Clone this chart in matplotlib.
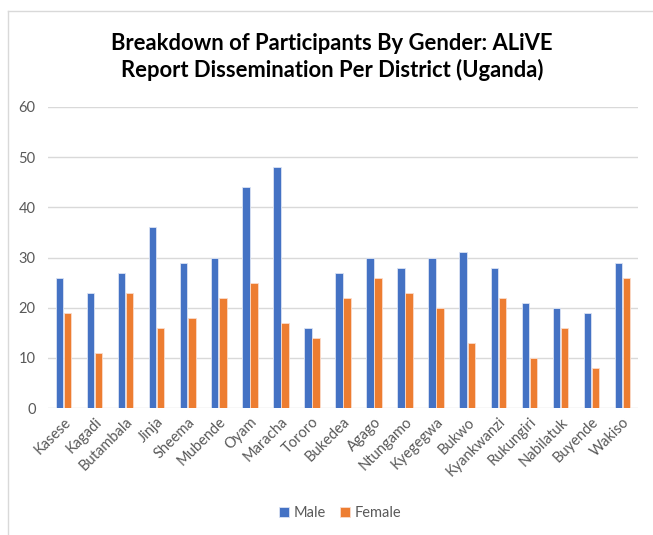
import matplotlib
matplotlib.use("Agg")
import matplotlib.pyplot as plt
from matplotlib.lines import Line2D
import numpy as np

districts = ["Kasese", "Kagadi", "Butambala", "Jinja", "Sheema", "Mubende", "Oyam",
             "Maracha", "Tororo", "Bukedea", "Agago", "Ntungamo", "Kyegegwa", "Bukwo",
             "Kyankwanzi", "Rukungiri", "Nabilatuk", "Buyende", "Wakiso"]
male = [26, 23, 27, 36, 29, 30, 44, 48, 16, 27, 30, 28, 30, 31, 28, 21, 20, 19, 29]
female = [19, 11, 23, 16, 18, 22, 25, 17, 14, 22, 26, 23, 20, 13, 22, 10, 16, 8, 26]

plt.rcParams["font.family"] = ["Lato", "DejaVu Sans"]

fig = plt.figure(figsize=(6.53, 5.35), dpi=100)
W, H = 653, 535
ax = fig.add_axes([48 / W, 1 - 408 / H, 590 / W, 301 / H])

x = np.arange(len(districts))
bw = 0.24
ax.bar(x - bw / 2 - 0.01, male, width=bw, color="#4472c4", edgecolor="#dbe3f3", linewidth=0.6, label="Male", zorder=3)
ax.bar(x + bw / 2 + 0.01, female, width=bw, color="#ed7d31", edgecolor="#fadccb", linewidth=0.6, label="Female", zorder=3)

ax.set_xlim(-0.5, len(districts) - 0.5)
ax.set_ylim(0, 60)
ax.set_yticks(range(0, 61, 10))
ax.grid(axis="y", color="#d9d9d9", linewidth=1, zorder=0)
for s in ax.spines.values():
    s.set_visible(False)
ax.tick_params(axis="both", length=0, colors="#595959", labelsize=10.5)
ax.tick_params(axis="y", pad=9)
ax.tick_params(axis="x", pad=5)
ax.set_xticks(x)
ax.set_xticklabels(districts, rotation=45, ha="right", rotation_mode="anchor")

fig.text(332 / W, 1 - 57 / H, "Breakdown of Participants By Gender: ALiVE\nReport Dissemination Per District (Uganda)",
         ha="center", va="center", fontsize=15.8, fontweight="bold", color="#000000", linespacing=1.3)

ax.legend(loc="center", bbox_to_anchor=(340 / W, 1 - 513 / H), bbox_transform=fig.transFigure,
          ncol=2, frameon=False, fontsize=10.5, handlelength=0.7, handleheight=0.7,
          columnspacing=1.0, handletextpad=0.3, labelcolor="#595959")

# chart frame (partly cropped in the reference)
fig.add_artist(Line2D([8 / W, 8 / W], [0, 1 - 11 / H], transform=fig.transFigure, color="#d9d9d9", linewidth=1))
fig.add_artist(Line2D([8 / W, 1], [1 - 11 / H, 1 - 11 / H], transform=fig.transFigure, color="#d9d9d9", linewidth=1))

fig.savefig("out.png", dpi=100)
